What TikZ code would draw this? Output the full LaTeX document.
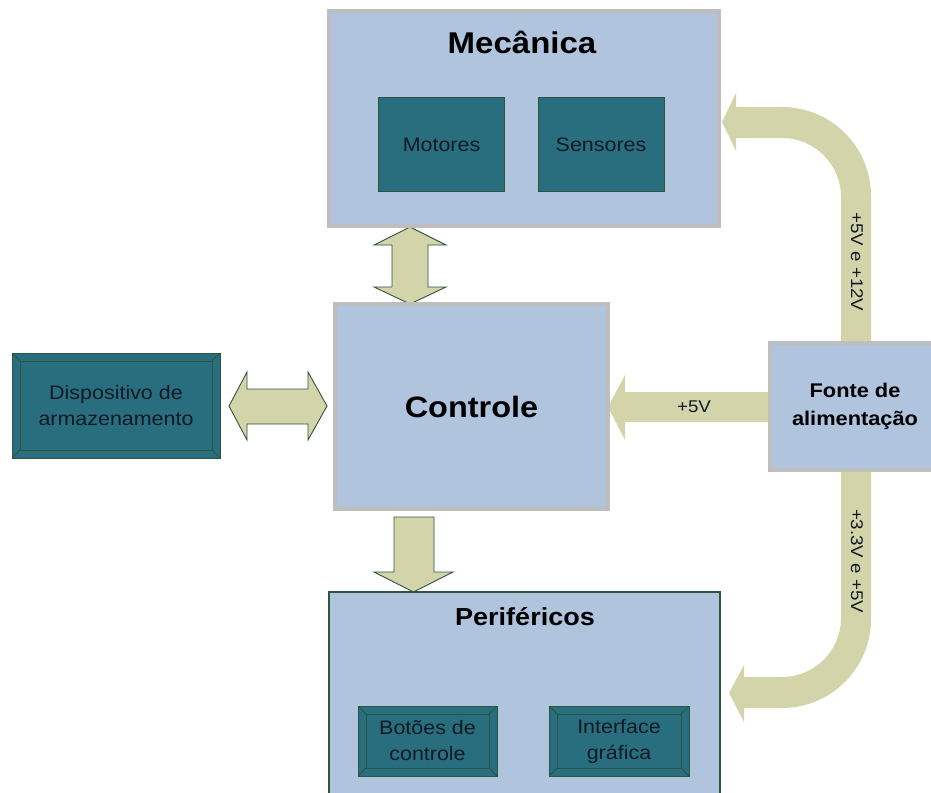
\documentclass[tikz,border=0pt]{standalone}
\usepackage{fontspec}
\setmainfont[FakeStretch=1.1]{Liberation Sans}
\usetikzlibrary{backgrounds}
\definecolor{boxblue}{RGB}{176,196,222}
\definecolor{tealbox}{RGB}{41,110,127}
\definecolor{arrowk}{RGB}{211,212,170}
\definecolor{dkgreen}{RGB}{45,85,60}
\definecolor{bordgray}{RGB}{190,190,190}
\definecolor{txtdark}{RGB}{15,25,35}
\begin{document}
\begin{tikzpicture}[x=1pt,y=-1pt,
  bigbox/.style={draw=bordgray, line width=4pt, fill=boxblue, inner sep=0pt},
  perbox/.style={draw=dkgreen, line width=1.2pt, fill=boxblue, inner sep=0pt},
  titletxt/.style={font=\bfseries\fontsize{30}{36}\selectfont, text=black, inner sep=0pt},
  subtxt/.style={font=\fontsize{19.5}{26}\selectfont, text=txtdark, align=center, inner sep=0pt},
  flatbox/.style={draw=dkgreen, line width=1pt, fill=tealbox, inner sep=0pt,
    font=\fontsize{19.5}{26}\selectfont, text=txtdark, align=center},
  bevelbox/.style={draw=dkgreen, line width=1pt, fill=tealbox, inner sep=0pt,
    font=\fontsize{19.5}{26}\selectfont, text=txtdark, align=center,
    path picture={
      \draw[dkgreen, line width=1pt]
        ([shift={(8pt,-8pt)}]path picture bounding box.north west) rectangle
        ([shift={(-8pt,8pt)}]path picture bounding box.south east);
      \draw[dkgreen, line width=1pt]
        (path picture bounding box.north west) -- ([shift={(8pt,-8pt)}]path picture bounding box.north west)
        (path picture bounding box.north east) -- ([shift={(-8pt,-8pt)}]path picture bounding box.north east)
        (path picture bounding box.south west) -- ([shift={(8pt,8pt)}]path picture bounding box.south west)
        (path picture bounding box.south east) -- ([shift={(-8pt,8pt)}]path picture bounding box.south east);
    }},
  fatarrow/.style={fill=arrowk, draw=dkgreen, line width=0.9pt, line join=miter},
  powerarrow/.style={fill=arrowk, draw=none},
  voltlabel/.style={font=\fontsize{17}{20}\selectfont, text=txtdark, inner sep=0pt}
]
\useasboundingbox (0,0) rectangle (931,792);
\clip (0,0) rectangle (931,792);

% main boxes
\node[bigbox, minimum width=390pt, minimum height=215pt] (mec) at (524,118.5) {};
\node[titletxt] (mectitle) at (522,42) {Mecânica};
\node[flatbox, minimum width=126pt, minimum height=94pt] (mot) at (441.5,144.5) {Motores};
\node[flatbox, minimum width=126pt, minimum height=94pt] (sen) at (601,144.5) {Sensores};

\node[bigbox, minimum width=273pt, minimum height=205pt, font=\bfseries\fontsize{29.5}{34}\selectfont] (ctl) at (471.5,406.5) {Controle};

\node[bevelbox, minimum width=208pt, minimum height=105pt] (disp) at (116,405.5) {Dispositivo de\\armazenamento};

\node[bigbox, minimum width=165pt, minimum height=127pt, align=center,
      font=\bfseries\fontsize{19.8}{28}\selectfont] (fonte) at (852.5,406.5) {\hspace*{5pt}Fonte de\\\hspace*{5pt}alimentação};

\node[perbox, minimum width=391pt, minimum height=218pt] (per) at (524.5,701) {};
\node[titletxt, font=\bfseries\fontsize{24.6}{30}\selectfont] (pertitle) at (525,617) {Periféricos};
\node[bevelbox, minimum width=139pt, minimum height=70pt] (bot) at (427.5,741) {Botões de\\controle};
\node[bevelbox, minimum width=140pt, minimum height=70pt] (gui) at (619,741) {Interface\\gráfica};

\begin{scope}[on background layer]
  % Mecanica <-> Controle
  \draw[fatarrow] (410,227) -- (446,245) -- (428,245) -- (428,287) -- (446,287) -- (410,304)
     -- (374,287) -- (392,287) -- (392,245) -- (374,245) -- cycle;
  % Dispositivo <-> Controle
  \draw[fatarrow] (229,406) -- (247,372) -- (247,389) -- (308,389) -- (308,372) -- (327,406)
     -- (308,440) -- (308,424) -- (247,424) -- (247,440) -- cycle;
  % Controle -> Perifericos
  \draw[fatarrow] (394,517) -- (434,517) -- (434,572) -- (453,572) -- (413.5,592)
     -- (374,572) -- (394,572) -- cycle;
  % Fonte -> Controle (+5V)
  \fill[powerarrow] (770,392) -- (625,392) -- (625,375) -- (608,407) -- (625,440)
     -- (625,422) -- (770,422) -- cycle;
  % Fonte -> Mecanica
  \fill[powerarrow] (841,345) -- (841,197) arc[start angle=0, end angle=-90, radius=59]
     -- (736,138) -- (736,151) -- (722,122) -- (736,93) -- (736,107) -- (782,107)
     arc[start angle=-90, end angle=0, radius=89] -- (871,345) -- cycle;
  % Fonte -> Perifericos
  \fill[powerarrow] (841,468) -- (841,618) arc[start angle=0, end angle=90, radius=59]
     -- (744,677) -- (744,665) -- (729,693) -- (744,722) -- (744,708) -- (782,708)
     arc[start angle=90, end angle=0, radius=89] -- (871,468) -- cycle;
\end{scope}

\node[voltlabel] (v5) at (694,407) {+5V};
\node[voltlabel, rotate=-90] (v512) at (857,262) {+5V e +12V};
\node[voltlabel, rotate=-90] (v335) at (857,561) {+3.3V e +5V};
\end{tikzpicture}
\end{document}
